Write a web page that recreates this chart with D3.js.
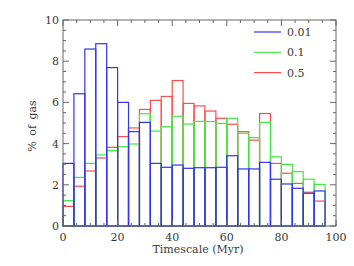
<!DOCTYPE html>
<html><head><meta charset="utf-8">
<script src="https://cdn.jsdelivr.net/npm/d3@7"></script>
<style>body{margin:0;background:#fff}svg{display:block}</style>
</head><body>
<script>
const binStarts = [0,4,8,12,16,20,24,28,32,36,40,44,48,52,56,60,64,68,72,76,80,84,88,92];
const binWidth = 4;
const seriesNames = ["0.01","0.1","0.5"];
const values001 = [3.04,6.42,8.59,8.85,7.69,6.00,4.58,5.03,3.04,2.85,2.96,2.80,2.83,2.83,2.85,3.41,2.77,2.77,3.09,2.27,2.04,1.83,1.59,1.70];
const values01  = [1.23,2.36,3.04,3.45,3.66,3.85,3.98,5.45,4.61,4.82,5.33,4.95,5.08,5.07,4.98,5.23,4.50,4.29,5.03,3.36,2.99,2.64,2.27,2.02];
const values05  = [0.95,1.93,2.67,3.30,3.82,4.34,4.76,5.66,6.10,6.29,7.06,5.95,5.83,5.58,5.23,4.94,4.58,4.17,5.46,3.04,2.56,2.07,1.64,1.21];
const xTicks = [0,20,40,60,80,100];
const yTicks = [0,2,4,6,8,10];
const colors = {"0.01":"#3434ee","0.1":"#44e844","0.5":"#ff4c4c"};

const W=354,H=266;
const svg=d3.select("body").append("svg").attr("width",W).attr("height",H);
const x=d3.scaleLinear().domain([0,100]).range([63,336]);
const y=d3.scaleLinear().domain([0,10]).range([226,20]);
const font="DejaVu Serif";
const axisCol="#666";
const textCol="#3a3a3a";

// series (draw order red, green, blue)
const series=[["0.5",values05],["0.1",values01],["0.01",values001]];
series.forEach(([name,vals])=>{
  svg.append("g").selectAll("rect").data(binStarts).join("rect")
    .attr("x",(d)=>x(d)).attr("width",(d)=>x(d+binWidth)-x(d))
    .attr("y",(d,i)=>y(vals[i])).attr("height",(d,i)=>y(0)-y(vals[i]))
    .attr("fill","none").attr("stroke",colors[name]).attr("stroke-width",1.2);
});

// frame
svg.append("rect").attr("x",x(0)).attr("y",y(10)).attr("width",x(100)-x(0)).attr("height",y(0)-y(10))
  .attr("fill","none").attr("stroke",axisCol).attr("stroke-width",1);

// ticks
const g=svg.append("g").attr("stroke",axisCol).attr("stroke-width",1);
d3.range(0,101,5).forEach(t=>{
  const L = t%20===0?6:3;
  g.append("line").attr("x1",x(t)).attr("x2",x(t)).attr("y1",y(0)).attr("y2",y(0)-L);
  g.append("line").attr("x1",x(t)).attr("x2",x(t)).attr("y1",y(10)).attr("y2",y(10)+L);
});
d3.range(0,10.01,0.5).forEach(t=>{
  const L = Math.abs(t%2)<1e-6?6:3;
  g.append("line").attr("x1",x(0)).attr("x2",x(0)+L).attr("y1",y(t)).attr("y2",y(t));
  g.append("line").attr("x1",x(100)).attr("x2",x(100)-L).attr("y1",y(t)).attr("y2",y(t));
});

// tick labels
svg.append("g").selectAll("text").data(xTicks).join("text")
  .attr("x",d=>x(d)).attr("y",241).attr("text-anchor","middle")
  .attr("font-family",font).attr("font-size",11).attr("fill",textCol).text(d=>d);
svg.append("g").selectAll("text").data(yTicks).join("text")
  .attr("x",59).attr("y",d=>y(d)+4).attr("text-anchor","end")
  .attr("font-family",font).attr("font-size",11).attr("fill",textCol).text(d=>d);

// axis titles
svg.append("text").attr("x",198).attr("y",253).attr("text-anchor","middle")
  .attr("font-family",font).attr("font-size",11).attr("fill",textCol).text("Timescale (Myr)");
svg.append("text").attr("transform","translate(35.5,126) rotate(-90)").attr("text-anchor","middle")
  .attr("font-family",font).attr("font-size",11).attr("fill",textCol).attr("word-spacing",2).text("% of gas");

// legend
seriesNames.forEach((n,i)=>{
  const ly=32+i*20.3;
  svg.append("line").attr("x1",254).attr("x2",281).attr("y1",ly).attr("y2",ly)
    .attr("stroke",colors[n]).attr("stroke-width",1.2);
  svg.append("text").attr("x",287).attr("y",ly+4).attr("font-family",font).attr("font-size",11)
    .attr("fill",textCol).text(n);
});
</script>
</body></html>
